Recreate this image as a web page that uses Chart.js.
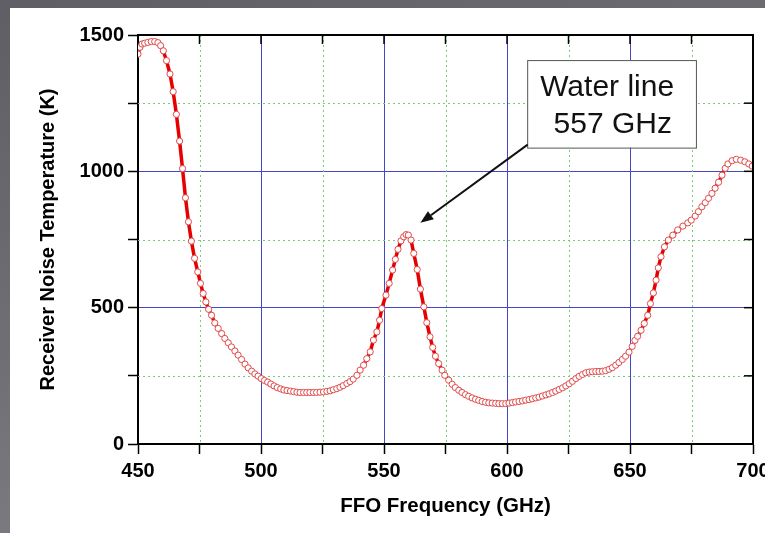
<!DOCTYPE html>
<html>
<head>
<meta charset="utf-8">
<script src="https://cdn.jsdelivr.net/npm/chart.js@4.4.1/dist/chart.umd.min.js"></script>
<style>
  html, body { margin: 0; padding: 0; }
  body {
    width: 765px; height: 533px; overflow: hidden; position: relative;
    background: linear-gradient(160deg, #5e5e64 0%, #6f6f75 45%, #8a8a90 100%);
  }
  #wrap { position: absolute; left: 10px; top: 8px; width: 755px; height: 525px; background: #fff; }
</style>
</head>
<body>
<div id="wrap"><canvas id="chart" width="755" height="525"></canvas></div>
<script>
// ===== DATA =====
const freqGHz = [
  450.0, 450.8, 451.6, 452.7, 454.0, 455.4, 456.8, 458.1, 459.2, 460.3,
  461.6, 463.0, 464.3, 465.6, 466.9, 468.1, 469.3, 470.5, 471.7, 473.0,
  474.3, 475.4, 476.5, 477.6, 478.7, 479.9, 481.2, 482.6, 484.0, 485.3,
  486.7, 488.0, 489.4, 490.7, 492.1, 493.5, 494.8, 496.2, 497.5, 498.8,
  500.1, 501.4, 502.7, 504.0, 505.3, 506.6, 508.0, 509.3, 510.6, 512.0,
  513.3, 514.6, 515.9, 517.3, 518.6, 519.9, 521.3, 522.6, 524.0, 525.4,
  526.8, 528.1, 529.4, 530.8, 532.1, 533.4, 534.9, 536.2, 537.5, 539.0,
  540.3, 541.7, 543.0, 544.4, 545.7, 547.1, 548.2, 549.1, 550.8, 552.1,
  553.5, 554.6, 555.7, 556.9, 558.0, 559.0, 559.9, 561.0, 562.1, 563.5,
  564.8, 566.2, 567.4, 568.7, 569.8, 570.9, 572.2, 573.6, 574.7, 576.3,
  577.7, 579.0, 580.4, 581.7, 583.1, 584.4, 585.8, 587.2, 588.5, 589.9,
  591.3, 592.6, 594.0, 595.4, 596.7, 598.1, 599.5, 600.8, 602.2, 603.5,
  604.9, 606.3, 607.6, 609.0, 610.3, 611.7, 613.0, 614.4, 615.8, 617.1,
  618.5, 619.8, 621.2, 622.6, 623.9, 625.3, 626.6, 628.0, 629.3, 630.7,
  632.0, 633.4, 634.7, 636.1, 637.4, 638.8, 640.1, 641.5, 642.8, 644.2,
  645.5, 646.9, 648.2, 649.6, 650.9, 652.0, 653.1, 654.5, 655.8, 657.2,
  658.3, 659.5, 660.6, 661.5, 662.6, 664.0, 665.6, 667.4, 669.4, 671.5,
  673.5, 674.9, 676.5, 677.8, 679.2, 680.6, 681.9, 683.3, 684.6, 686.0,
  687.4, 688.7, 689.8, 691.5, 693.2, 695.0, 696.7, 698.3, 699.7
];
const noiseK = [
  1430, 1455, 1467, 1470, 1473, 1476, 1476, 1472, 1461, 1442,
  1406, 1357, 1292, 1209, 1111, 1010, 903, 815, 744, 681,
  631, 589, 552, 521, 494, 472, 444, 424, 405, 387,
  371, 356, 341, 326, 310, 293, 279, 267, 257, 249,
  240, 233, 227, 220, 213, 207, 202, 198, 196, 194,
  192, 190, 189, 189, 189, 189, 189, 189, 190, 191,
  193, 195, 199, 203, 208, 214, 222, 229, 238, 252,
  271, 289, 313, 338, 381, 411, 454, 497, 546, 589,
  638, 677, 714, 745, 760, 768, 766, 748, 699, 640,
  568, 503, 445, 393, 354, 322, 295, 271, 252, 234,
  219, 207, 197, 189, 181, 175, 169, 164, 160, 156,
  153, 151, 150, 149, 148, 148, 148, 150, 152, 154,
  156, 158, 161, 163, 166, 169, 172, 176, 180, 184,
  189, 194, 200, 206, 213, 221, 230, 240, 248, 255,
  261, 264, 265, 266, 266, 267, 269, 274, 280, 289,
  299, 310, 322, 337, 358, 380, 395, 417, 442, 472,
  515, 554, 601, 646, 687, 723, 748, 766, 785, 799,
  811, 821, 836, 852, 870, 885, 901, 919, 938, 960,
  986, 1011, 1027, 1039, 1044, 1041, 1035, 1027, 1019
];
const xLabelTicks = [450, 500, 550, 600, 650, 700];
const yLabelTicks = [0, 500, 1000, 1500];
const xMinorGrid = [475, 525, 575, 625, 675];
const yMinorGrid = [250, 750, 1250];
const noteLines = ["Water line", " 557 GHz"];

const FONT = "Arial, 'Liberation Sans', Helvetica, sans-serif";
const MAJOR_GRID = "#4646c8";
const MINOR_GRID = "#78cc78";

Chart.defaults.color = "#000";
Chart.defaults.font.family = FONT;

// ===== extra drawing: dotted minor grid, mirror ticks, frame, note + arrow =====
const decorPlugin = {
  id: "decor",
  beforeDatasetsDraw(chart) {
    const { ctx, chartArea: a, scales: { x, y } } = chart;
    ctx.save();
    ctx.strokeStyle = MINOR_GRID;
    ctx.lineWidth = 1;
    ctx.setLineDash([2, 3]);
    xMinorGrid.forEach(v => {
      const px = Math.round(x.getPixelForValue(v)) + 0.5;
      ctx.beginPath(); ctx.moveTo(px, a.top); ctx.lineTo(px, a.bottom); ctx.stroke();
    });
    yMinorGrid.forEach(v => {
      const py = Math.round(y.getPixelForValue(v)) + 0.5;
      ctx.beginPath(); ctx.moveTo(a.left, py); ctx.lineTo(a.right, py); ctx.stroke();
    });
    ctx.restore();
  },
  afterDraw(chart) {
    const { ctx, chartArea: a, scales: { x, y } } = chart;
    ctx.save();
    // frame top / right
    ctx.strokeStyle = "#000";
    ctx.lineWidth = 2;
    ctx.beginPath();
    ctx.moveTo(a.left, a.top); ctx.lineTo(a.right, a.top); ctx.lineTo(a.right, a.bottom);
    ctx.stroke();
    // inward ticks on top and right
    ctx.lineWidth = 1.5;
    for (let v = 475; v < 700; v += 25) {
      const px = x.getPixelForValue(v);
      ctx.beginPath(); ctx.moveTo(px, a.top); ctx.lineTo(px, a.top + 9); ctx.stroke();
    }
    for (let v = 250; v < 1500; v += 250) {
      const py = y.getPixelForValue(v);
      ctx.beginPath(); ctx.moveTo(a.right, py); ctx.lineTo(a.right - 9, py); ctx.stroke();
    }

    // note box
    const bx0 = x.getPixelForValue(608.2), bx1 = x.getPixelForValue(676.8);
    const by0 = y.getPixelForValue(1408), by1 = y.getPixelForValue(1087);
    ctx.fillStyle = "#fff";
    ctx.fillRect(bx0, by0, bx1 - bx0, by1 - by0);
    ctx.strokeStyle = "#555";
    ctx.lineWidth = 1;
    ctx.strokeRect(bx0 + 0.5, by0 + 0.5, bx1 - bx0, by1 - by0);
    ctx.fillStyle = "#111";
    ctx.font = "30px " + FONT;
    ctx.textBaseline = "alphabetic";
    ctx.fillText(noteLines[0], bx0 + 13, by0 + 36);
    ctx.fillText(noteLines[1], bx0 + 18, by0 + 73);

    // arrow
    const sx = x.getPixelForValue(608.4), sy = y.getPixelForValue(1098);
    const tx = x.getPixelForValue(564.8), ty = y.getPixelForValue(811);
    const ang = Math.atan2(ty - sy, tx - sx);
    const hl = 13, hw = 5;
    const bxh = tx - hl * Math.cos(ang), byh = ty - hl * Math.sin(ang);
    ctx.strokeStyle = "#111";
    ctx.lineWidth = 2;
    ctx.beginPath(); ctx.moveTo(sx, sy); ctx.lineTo(bxh, byh); ctx.stroke();
    ctx.fillStyle = "#111";
    ctx.beginPath();
    ctx.moveTo(tx, ty);
    ctx.lineTo(bxh + hw * Math.sin(ang), byh - hw * Math.cos(ang));
    ctx.lineTo(bxh - hw * Math.sin(ang), byh + hw * Math.cos(ang));
    ctx.closePath(); ctx.fill();
    ctx.restore();
  }
};

const ctx = document.getElementById("chart").getContext("2d");
new Chart(ctx, {
  type: "line",
  data: {
    datasets: [{
      label: "Receiver noise temperature",
      data: freqGHz.map((f, i) => ({ x: f, y: noiseK[i] })),
      borderColor: "#e60000",
      borderWidth: 3.5,
      pointRadius: 3.1,
      pointBorderWidth: 1,
      pointBorderColor: "#e04a4a",
      pointBackgroundColor: "#fff",
      tension: 0
    }]
  },
  options: {
    responsive: false,
    animation: false,
    layout: { padding: { top: 27, right: 12, left: 0, bottom: 0 } },
    plugins: { legend: { display: false }, tooltip: { enabled: false } },
    scales: {
      x: {
        type: "linear",
        min: 450, max: 700,
        ticks: {
          stepSize: 25,
          padding: 5,
          maxRotation: 0,
          autoSkip: false,
          font: { size: 20, weight: "bold" },
          callback: v => xLabelTicks.includes(v) ? v : ""
        },
        grid: {
          color: c => (c.tick && xLabelTicks.includes(c.tick.value)) ? MAJOR_GRID : "rgba(0,0,0,0)",
          lineWidth: 1,
          tickColor: "#000",
          tickLength: 10,
          tickWidth: 1.5
        },
        border: { color: "#000", width: 2 },
        title: {
          display: true,
          text: "FFO Frequency (GHz)",
          font: { size: 20.5, weight: "bold" },
          padding: { top: 0, bottom: 14 }
        },
        afterFit: s => { s.height = 89; s.paddingLeft = 0; s.paddingRight = 0; }
      },
      y: {
        min: 0, max: 1500,
        ticks: {
          stepSize: 250,
          padding: 4,
          autoSkip: false,
          font: { size: 20, weight: "bold" },
          callback: v => yLabelTicks.includes(v) ? v : ""
        },
        grid: {
          color: c => (c.tick && yLabelTicks.includes(c.tick.value)) ? MAJOR_GRID : "rgba(0,0,0,0)",
          lineWidth: 1,
          tickColor: "#000",
          tickLength: 10,
          tickWidth: 1.5
        },
        border: { color: "#000", width: 2 },
        title: {
          display: true,
          text: "Receiver Noise Temperature (K)",
          font: { size: 20, weight: "bold" },
          padding: { top: 26, bottom: 0 }
        },
        afterFit: s => { s.width = 128; s.paddingTop = 0; s.paddingBottom = 0; }
      }
    }
  },
  plugins: [decorPlugin]
});
</script>
</body>
</html>
